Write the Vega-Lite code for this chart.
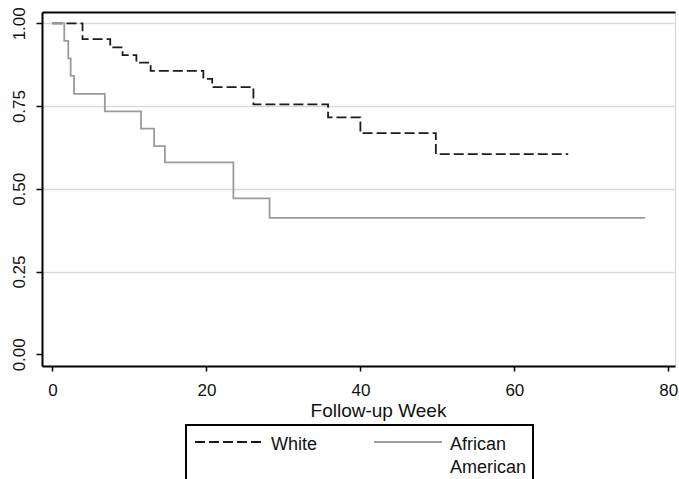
{
  "$schema": "https://vega.github.io/schema/vega-lite/v6.json",
  "width": 633,
  "height": 354,
  "autosize": {"type": "none"},
  "padding": {"left": 42, "top": 12, "right": 4, "bottom": 113},
  "background": "white",
  "config": {
    "view": {"stroke": "#d4d4d4", "strokeWidth": 1},
    "font": "Liberation Sans",
    "legend": {"symbolStrokeWidth": 1.8}
  },
  "data": {
    "values": [
      {"week": 0, "surv": 1.0, "group": "White"},
      {"week": 3.9, "surv": 0.952, "group": "White"},
      {"week": 7.5, "surv": 0.927, "group": "White"},
      {"week": 9.1, "surv": 0.904, "group": "White"},
      {"week": 10.9, "surv": 0.881, "group": "White"},
      {"week": 12.75, "surv": 0.856, "group": "White"},
      {"week": 19.6, "surv": 0.832, "group": "White"},
      {"week": 20.75, "surv": 0.807, "group": "White"},
      {"week": 26.1, "surv": 0.755, "group": "White"},
      {"week": 35.8, "surv": 0.716, "group": "White"},
      {"week": 40.0, "surv": 0.668, "group": "White"},
      {"week": 49.8, "surv": 0.605, "group": "White"},
      {"week": 67.0, "surv": 0.605, "group": "White"},
      {"week": 0, "surv": 1.0, "group": "African American"},
      {"week": 1.53, "surv": 0.947, "group": "African American"},
      {"week": 2.05, "surv": 0.894, "group": "African American"},
      {"week": 2.36, "surv": 0.841, "group": "African American"},
      {"week": 2.8, "surv": 0.787, "group": "African American"},
      {"week": 6.8, "surv": 0.734, "group": "African American"},
      {"week": 11.5, "surv": 0.682, "group": "African American"},
      {"week": 13.2, "surv": 0.629, "group": "African American"},
      {"week": 14.6, "surv": 0.58, "group": "African American"},
      {"week": 23.5, "surv": 0.471, "group": "African American"},
      {"week": 28.2, "surv": 0.412, "group": "African American"},
      {"week": 77.0, "surv": 0.412, "group": "African American"}
    ]
  },
  "layer": [
    {
      "mark": {"type": "line", "interpolate": "step-after", "strokeWidth": 1.8},
      "encoding": {
        "x": {
          "field": "week", "type": "quantitative",
          "scale": {"domain": [-1.364, 80.87], "nice": false, "zero": false},
          "axis": {
            "values": [0, 20, 40, 60, 80],
            "title": "Follow-up Week",
            "titleFontSize": 19, "titleFontWeight": "normal", "titleColor": "#111111",
            "titleX": 336, "titleY": 50, "titleBaseline": "alphabetic",
            "labelFontSize": 17, "labelColor": "#111111", "labelPadding": 11, "labelFlush": false,
            "tickSize": 5, "tickWidth": 1.5, "tickColor": "black",
            "domainColor": "black", "domainWidth": 2, "grid": false
          }
        },
        "y": {
          "field": "surv", "type": "quantitative",
          "scale": {"domain": [-0.0353, 1.0341], "nice": false, "zero": false},
          "axis": {
            "values": [0, 0.25, 0.5, 0.75, 1],
            "format": ".2f",
            "title": null,
            "labelAngle": 270, "labelAlign": "center", "labelBaseline": "alphabetic",
            "labelPadding": 12, "labelFontSize": 17, "labelColor": "#111111",
            "tickSize": 6, "tickWidth": 1.5, "tickColor": "black",
            "domainColor": "black", "domainWidth": 2,
            "grid": true, "gridColor": "#d9d9d9", "gridWidth": 1.5,
            "gridOpacity": {"condition": {"test": "datum.value === 0", "value": 0}, "value": 1}
          }
        },
        "color": {
          "field": "group", "type": "nominal",
          "scale": {"domain": ["White", "African American"], "range": ["#1c1c1c", "#9b9b9b"]},
          "legend": {
            "orient": "none", "legendX": 144, "legendY": 413, "title": null,
            "direction": "horizontal", "columns": 2, "columnPadding": 52,
            "padding": 6, "strokeColor": "black", "fillColor": "white",
            "symbolType": "M-3.4,0H3.4", "symbolSize": 400, "symbolOffset": 26,
            "labelOffset": 31, "labelFontSize": 18, "labelColor": "#111111", "labelLimit": 400,
            "labelBaseline": "top",
            "labelExpr": "datum.label == 'African American' ? ['African', 'American'] : [datum.label, ' ']",
            "encode": {
              "legend": {"update": {"strokeWidth": {"value": 2}}},
              "labels": {"update": {"dy": {"value": -6}, "lineHeight": {"value": 23}}}
            }
          }
        },
        "strokeDash": {
          "field": "group", "type": "nominal",
          "scale": {"domain": ["White", "African American"], "range": [[10, 4], [1, 0]]},
          "legend": {
            "orient": "none", "legendX": 144, "legendY": 413, "title": null,
            "direction": "horizontal", "columns": 2, "columnPadding": 52,
            "padding": 6, "strokeColor": "black", "fillColor": "white",
            "symbolType": "M-3.4,0H3.4", "symbolSize": 400, "symbolOffset": 26,
            "labelOffset": 31, "labelFontSize": 18, "labelColor": "#111111", "labelLimit": 400,
            "labelBaseline": "top",
            "labelExpr": "datum.label == 'African American' ? ['African', 'American'] : [datum.label, ' ']",
            "encode": {
              "legend": {"update": {"strokeWidth": {"value": 2}}},
              "labels": {"update": {"dy": {"value": -6}, "lineHeight": {"value": 23}}}
            }
          }
        }
      }
    },
    {
      "mark": {"type": "line", "interpolate": "step-after", "opacity": 0},
      "encoding": {
        "x": {
          "field": "week", "type": "quantitative",
          "axis": {"orient": "top", "labels": false, "ticks": false, "title": null, "grid": false, "domainColor": "black", "domainWidth": 2}
        },
        "y": {"field": "surv", "type": "quantitative"},
        "detail": {"field": "group", "type": "nominal"}
      }
    }
  ],
  "resolve": {"axis": {"x": "independent"}}
}
